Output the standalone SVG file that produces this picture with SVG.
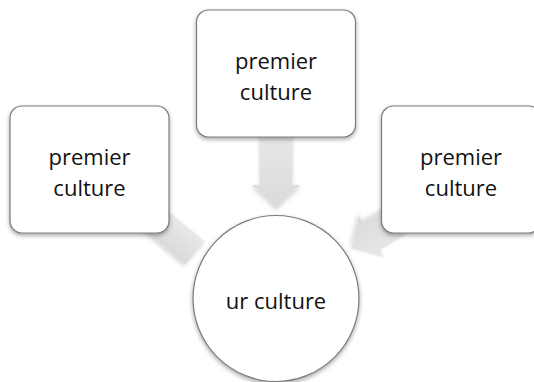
<svg xmlns="http://www.w3.org/2000/svg" width="534" height="382" viewBox="0 0 534 382">
  <defs>
    <filter id="shadow" x="-20%" y="-20%" width="140%" height="140%">
      <feDropShadow dx="0" dy="2" stdDeviation="2" flood-color="#000" flood-opacity="0.35"/>
    </filter>
    <filter id="arrowShadow" x="-20%" y="-20%" width="140%" height="140%">
      <feDropShadow dx="0" dy="2" stdDeviation="2" flood-color="#000" flood-opacity="0.18"/>
    </filter>
    <linearGradient id="arrowFill" x1="0" y1="0" x2="0" y2="1">
      <stop offset="0" stop-color="#e8e8e8"/>
      <stop offset="1" stop-color="#dadada"/>
    </linearGradient>
  </defs>
  <style>
    .box { fill: #ffffff; stroke: #7a7a7a; stroke-width: 1.2; filter: url(#shadow); }
    .arrow { fill: url(#arrowFill); filter: url(#arrowShadow); }
    .label { font-family: "Open Sans", "Liberation Sans", sans-serif; font-size: 22px; fill: #111; text-anchor: middle; }
  </style>

  <!-- connectors: block arrows pointing at the centre circle -->
  <g id="connectors">
    <polygon class="arrow" points="260,130 292,130 292,185 300.5,185 276,208 251.5,185 260,185"/>
    <g transform="translate(195,253) rotate(40)">
      <rect class="arrow" x="-90" y="-15" width="90" height="30"/>
    </g>
    <g transform="translate(351.5,248.5) rotate(149)">
      <polygon class="arrow" points="0,0 -23,-24.5 -23,-16 -80,-16 -80,16 -23,16 -23,24.5"/>
    </g>
  </g>

  <!-- outer nodes -->
  <g id="node-left">
    <rect class="box" x="10" y="106" width="159" height="127" rx="12"/>
    <text class="label" x="89.5" y="165">premier</text>
    <text class="label" x="89.5" y="196">culture</text>
  </g>
  <g id="node-top">
    <rect class="box" x="196.5" y="10" width="159" height="127" rx="12"/>
    <text class="label" x="276" y="69">premier</text>
    <text class="label" x="276" y="100">culture</text>
  </g>
  <g id="node-right">
    <rect class="box" x="381.5" y="106" width="159" height="127" rx="12"/>
    <text class="label" x="461" y="165">premier</text>
    <text class="label" x="461" y="196">culture</text>
  </g>

  <!-- centre node -->
  <g id="node-center">
    <circle class="box" cx="276" cy="298.5" r="83"/>
    <text class="label" x="276" y="309">ur culture</text>
  </g>
</svg>
